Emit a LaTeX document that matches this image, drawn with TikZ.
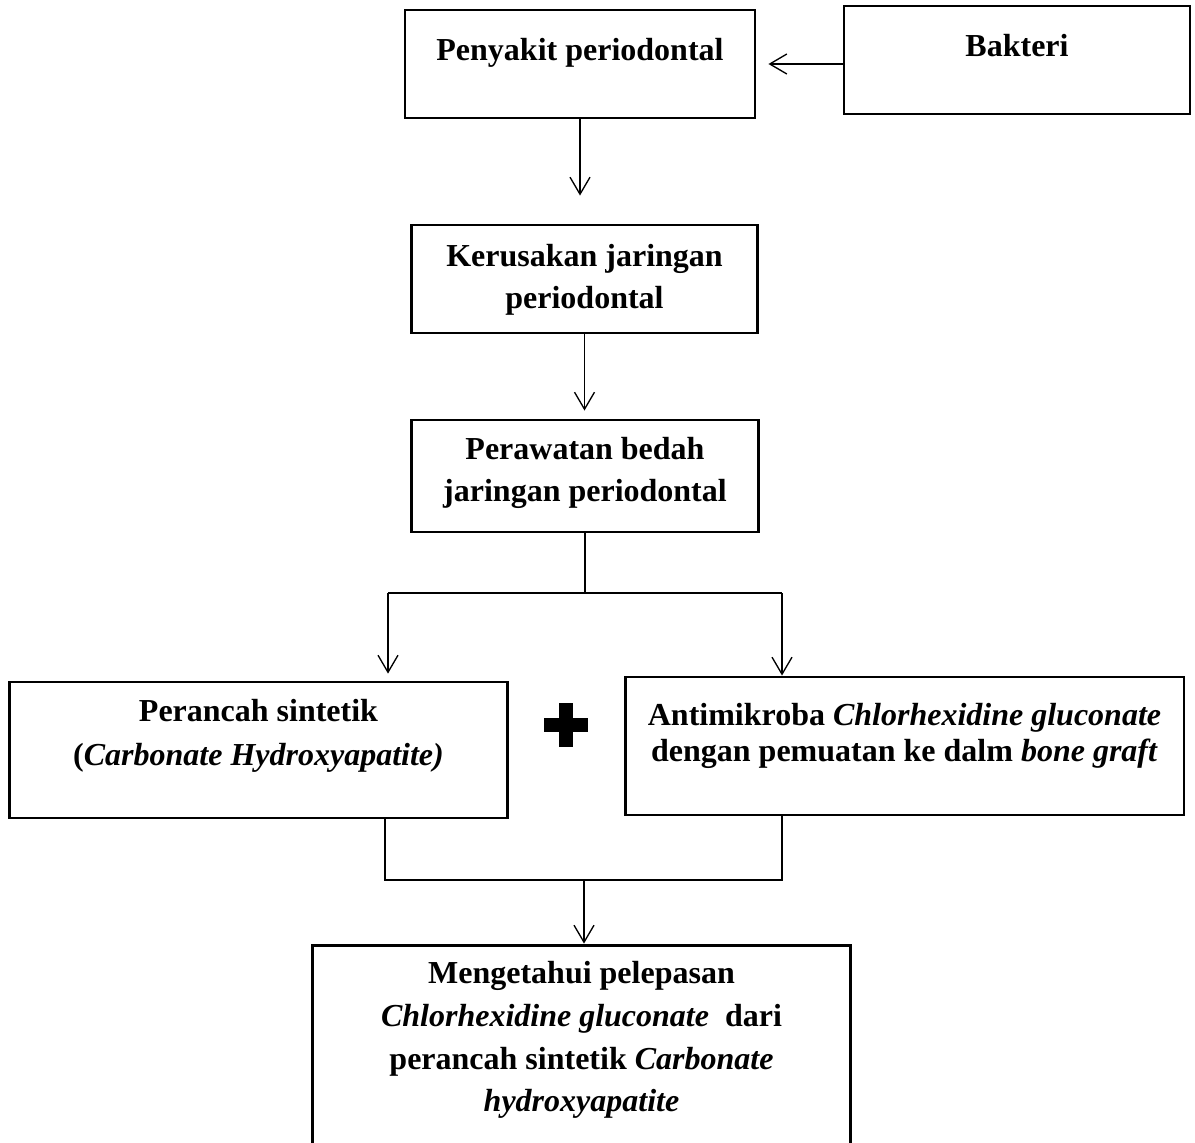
\documentclass[tikz,border=0pt]{standalone}
\usepackage{fontspec}
\setmainfont{Liberation Serif}
\usetikzlibrary{arrows.meta}

\newcommand{\boxtext}[2]{\raisebox{#1}[0pt][0pt]{\begin{tabular}{@{}c@{}}#2\end{tabular}}}

\begin{document}
\begin{tikzpicture}[x=0.375pt ,y=-0.375pt ,line width=0.5pt ,
		>={Straight Barb[length=6.4pt,width=7.5pt]},
		kotak/.style ={rectangle ,draw ,black ,line width=1.1pt ,text=black ,
			font=\fontsize{12}{#1}\selectfont\bfseries},
		kotak/.default=15.75,
		panah/.style ={->}]
		\useasboundingbox (0,0) rectangle (1195,1142);
		\clip (0,0) rectangle (1195,1142);
		\node[kotak ,minimum width=131.25pt ,minimum height=40.5pt] (peny) at (580,64)
			{\boxtext{1.5pt}{Penyakit periodontal}};
		\node[kotak ,minimum width=129.75pt ,minimum height=40.5pt] (bak) at (1017,60)
			{\boxtext{1.6pt}{Bakteri}};
		\node[kotak ,minimum width=130pt ,minimum height=40.5pt] (ker) at (584.5,279)
			{\boxtext{-3pt}{Kerusakan jaringan\\periodontal}};
		\node[kotak ,minimum width=130pt ,minimum height=42pt] (per) at (585,476)
			{\boxtext{-1.5pt}{Perawatan bedah\\jaringan periodontal}};
		\node[kotak=16.5 ,minimum width=187pt ,minimum height=51pt] (sin) at (258.5,750)
			{\boxtext{2.6pt}{Perancah sintetik\\(\textit{Carbonate Hydroxyapatite)}}};
		\node[kotak=13.5 ,minimum width=209.6pt ,minimum height=51.75pt] (ant) at (904.5,746)
			{\boxtext{0.5pt}{Antimikroba \textit{Chlorhexidine gluconate}\\dengan pemuatan ke dalm \textit{bone graft}}};
		\node[kotak=16 ,minimum width=202pt ,minimum height=80.6pt] (tahu) at (581.5,1052.5)
			{\boxtext{2pt}{Mengetahui pelepasan\\\textit{Chlorhexidine gluconate}\ \ dari\\perancah sintetik \textit{Carbonate}\\\textit{hydroxyapatite}}};
		% titik cabang
		\coordinate (cabang) at (585,593);
		\coordinate (kiri) at (388,593);
		\coordinate (kanan) at (782,593);
		\coordinate (bawahkiri) at (385,880);
		\coordinate (bawahkanan) at (782,880);
		\coordinate (gabung) at (584,880);
		\draw[panah ,shorten >=4.5pt] (bak.west |- peny.east) -- (peny.east); % bakteri ke penyakit
		\draw[panah ,shorten >=10.5pt] (peny.south) -- (peny.south |- ker.north); % penyakit ke kerusakan
		\draw[panah ,shorten >=3pt] (ker.south) -- (ker.south |- per.north); % kerusakan ke perawatan
		\draw (per.south) -- (cabang);
		\draw (kiri) -- (kanan);
		\draw[panah ,shorten >=2.6pt] (kiri) -- (kiri |- sin.north); % ke perancah
		\draw[panah] (kanan) -- (kanan |- ant.north); % ke antimikroba
		\draw (sin.south -| bawahkiri) -- (bawahkiri) -- (bawahkanan) -- (ant.south -| bawahkanan);
		\draw[panah] (gabung) -- (gabung |- tahu.north); % ke hasil
		% tanda tambah
		\fill (544,718) rectangle (588,732);
		\fill (559,703) rectangle (573,747);
\end{tikzpicture}
\end{document}
